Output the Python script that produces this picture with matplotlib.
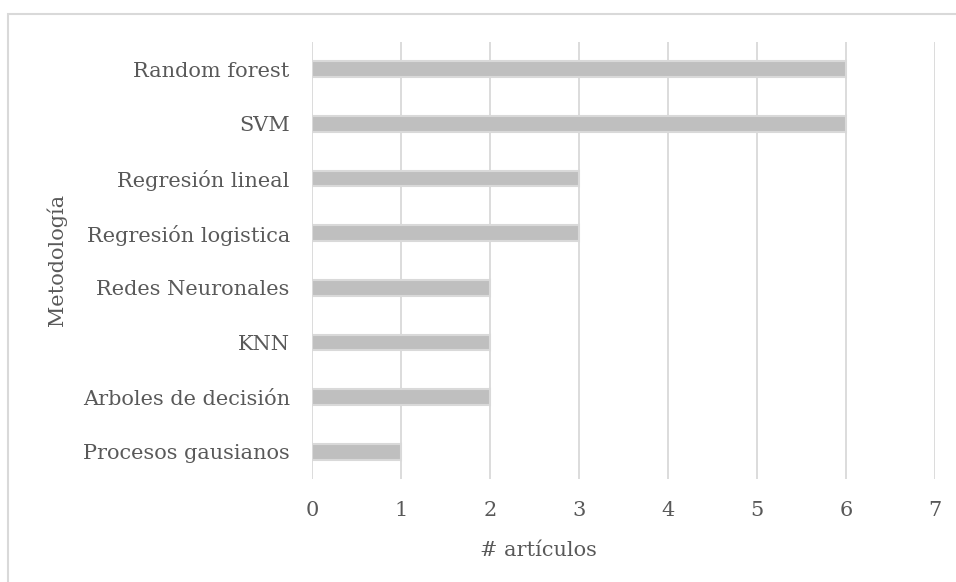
import matplotlib
matplotlib.use("Agg")
import matplotlib.pyplot as plt
from matplotlib.patches import Rectangle

categories = ["Random forest", "SVM", "Regresión lineal", "Regresión logistica",
              "Redes Neuronales", "KNN", "Arboles de decisión", "Procesos gausianos"]
counts = [6, 6, 3, 3, 2, 2, 2, 1]
xticks = [0, 1, 2, 3, 4, 5, 6, 7]

W, H = 956, 582
plt.rcParams['font.family'] = ['DejaVu Serif', 'Liberation Serif']
fig = plt.figure(figsize=(W / 100, H / 100), dpi=100)
text_color = "#595959"
grid_color = "#d9d9d9"

# pick a font size so that a reference label has the intended width
renderer = fig.canvas.get_renderer()
probe = fig.text(0, 0, "Random forest", fontsize=10)
w10 = probe.get_window_extent(renderer).width
probe.remove()
fs = 10 * 157 / w10

# outer chart frame (left and top edges visible)
fig.patches.append(Rectangle((8 / W, -0.1), 1.2, (H - 14) / H + 0.1,
                             transform=fig.transFigure, fill=False,
                             edgecolor=grid_color, linewidth=1.5))

ax = fig.add_axes([312 / W, 1 - 479 / H, (935 - 312) / W, (479 - 42) / H])
y = list(range(len(categories)))
ax.barh(y, counts, height=0.29, color="#bfbfbf", edgecolor="#d9d9d9",
        linewidth=1.5, zorder=3)
ax.set_ylim(len(categories) - 0.5, -0.5)
ax.set_xlim(0, 7)
ax.set_xticks(xticks)
ax.set_xticklabels([str(t) for t in xticks])
ax.set_yticks(y)
ax.set_yticklabels(categories)
ax.grid(axis="x", color=grid_color, linewidth=1.3, zorder=0)
ax.set_axisbelow(True)
for s in ax.spines.values():
    s.set_visible(False)
ax.tick_params(axis="both", length=0, colors=text_color, labelsize=fs)
ax.tick_params(axis="x", pad=16)
ax.tick_params(axis="y", pad=16)

fig.text(538 / W, 1 - 550 / H, "# artículos", color=text_color, fontsize=fs,
         ha="center", va="center")
fig.text(57 / W, 1 - 260 / H, "Metodología", color=text_color, fontsize=fs,
         ha="center", va="center", rotation=90)

fig.savefig("out.png", dpi=100)
